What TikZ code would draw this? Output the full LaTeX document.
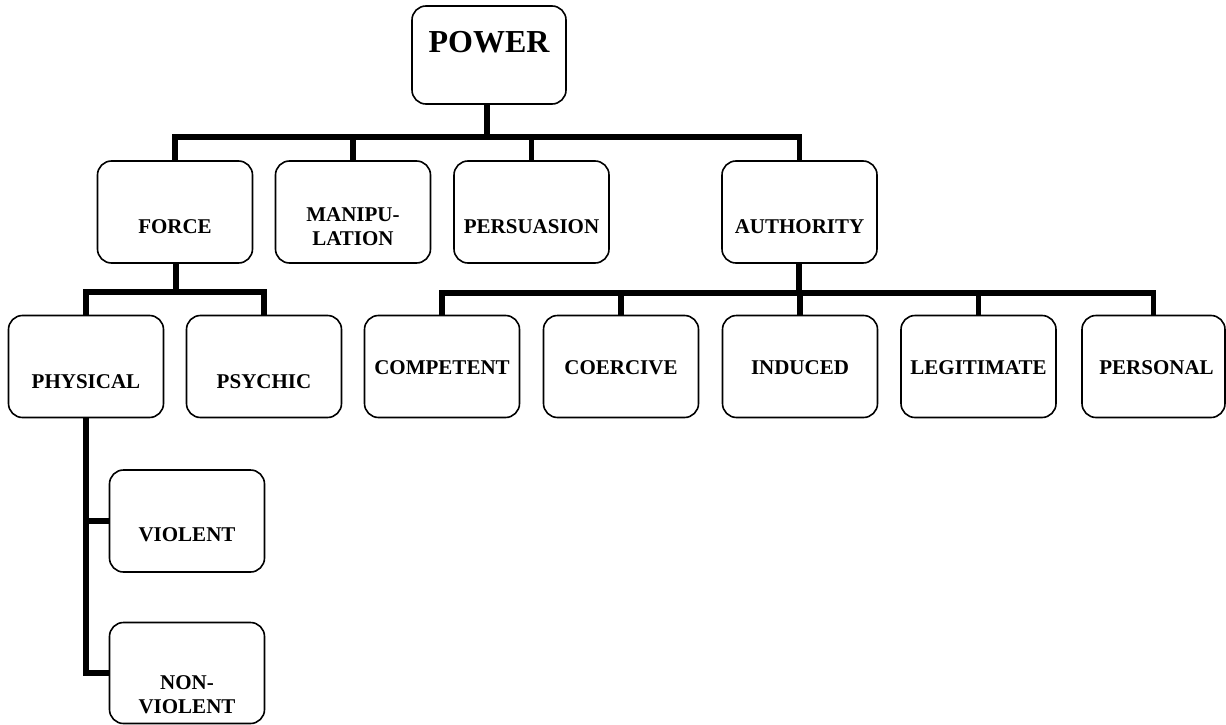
\documentclass[tikz,border=0pt]{standalone}
\usepackage{fontspec}
\setmainfont{Liberation Serif}
\begin{document}
\begin{tikzpicture}[x=1pt,y=-1pt,
  box/.style={draw, line width=1.6pt, rounded corners=14pt, minimum width=155pt, minimum height=102pt, inner sep=0pt},
  lbl/.style={font=\fontsize{21}{24}\selectfont\bfseries, align=center, inner sep=0pt},
  biglbl/.style={font=\fontsize{32}{36}\selectfont\bfseries, inner sep=0pt},
  conn/.style={line width=5.5pt}]
\useasboundingbox (0,0) rectangle (1226,725);
% level 0
\node[box, minimum width=154pt, minimum height=98pt, label={[biglbl,yshift=13pt]center:POWER}] (power) at (489,55) {};
% level 1
\node[box, label={[lbl,yshift=-15pt]center:FORCE}] (force) at (175,212) {};
\node[box, label={[lbl,yshift=-15pt]center:MANIPU-\\LATION}] (manip) at (353,212) {};
\node[box, label={[lbl,yshift=-15pt]center:PERSUASION}] (persu) at (531.5,212) {};
\node[box, label={[lbl,yshift=-15pt]center:AUTHORITY}] (auth) at (799.5,212) {};
% level 2 (force)
\node[box, label={[lbl,yshift=-15pt]center:PHYSICAL}] (phys) at (86,366.5) {};
\node[box, label={[lbl,yshift=-15pt]center:PSYCHIC}] (psych) at (264,366.5) {};
% level 2 (authority)
\node[box, label={[lbl,yshift=-1.5pt]center:COMPETENT}] (comp) at (442,366.5) {};
\node[box, label={[lbl,yshift=-1.5pt]center:COERCIVE}] (coer) at (621,366.5) {};
\node[box, label={[lbl,yshift=-1.5pt]center:INDUCED}] (indu) at (800,366.5) {};
\node[box, label={[lbl,yshift=-1.5pt]center:LEGITIMATE}] (legi) at (978.5,366.5) {};
\node[box, minimum width=143pt, label={[lbl,yshift=-1.5pt,xshift=3pt]center:PERSONAL}] (pers) at (1153.5,366.5) {};
% level 3 (physical)
\node[box, label={[lbl,yshift=-14pt]center:VIOLENT}] (viol) at (187,521) {};
\node[box, minimum height=101pt, label={[lbl,yshift=-22pt]center:NON-\\VIOLENT}] (nonv) at (187,673) {};
% junctions
\coordinate (j0) at (487,137);
\coordinate (j1) at (176,292);
\coordinate (j2) at (799,293);
% connectors
\draw[conn] (j0 |- power.south) -- (j0);
\draw[conn] (force.north) -- (force.north |- j0) -- (auth.north |- j0) -- (auth.north);
\draw[conn] (manip.north) -- (manip.north |- j0);
\draw[conn] (persu.north) -- (persu.north |- j0);
\draw[conn] (j1 |- force.south) -- (j1);
\draw[conn] (phys.north) -- (phys.north |- j1) -- (psych.north |- j1) -- (psych.north);
\draw[conn] (j2 |- auth.south) -- (j2);
\draw[conn] (comp.north) -- (comp.north |- j2) -- (pers.north |- j2) -- (pers.north);
\draw[conn] (coer.north) -- (coer.north |- j2);
\draw[conn] (indu.north) -- (indu.north |- j2);
\draw[conn] (legi.north) -- (legi.north |- j2);
\draw[conn] (phys.south) |- (viol.west);
\draw[conn] (phys.south) |- (nonv.west);
\end{tikzpicture}
\end{document}
